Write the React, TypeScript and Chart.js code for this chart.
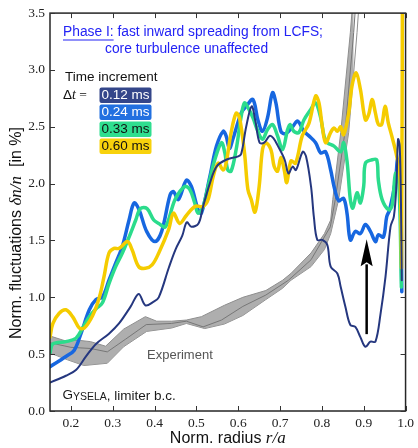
import React, { useEffect, useRef } from 'react';
import { Chart, registerables } from 'chart.js';

Chart.register(...registerables);

// ---------- axes ----------
const xTicks = [0.2, 0.3, 0.4, 0.5, 0.6, 0.7, 0.8, 0.9, 1.0];
const yTicks = [0.0, 0.5, 1.0, 1.5, 2.0, 2.5, 3.0, 3.5];
const xMin = 0.15;
const xMax = 1.0;
const yMin = 0;
const yMax = 3.5;

// ---------- Δt = 0.12 ms ----------
const r012 = [0.15, 0.188, 0.212, 0.236, 0.26, 0.291, 0.315, 0.343, 0.362, 0.378, 0.397, 0.41, 0.434, 0.45, 0.466, 0.477, 0.488, 0.505, 0.516, 0.532, 0.548, 0.571, 0.6, 0.607, 0.619, 0.632, 0.641, 0.651, 0.662, 0.675, 0.684, 0.695, 0.711, 0.72, 0.73, 0.738, 0.754, 0.762, 0.774, 0.781, 0.789, 0.801, 0.813, 0.821, 0.837, 0.845, 0.856, 0.868, 0.88, 0.892, 0.904, 0.916, 0.928, 0.94, 0.952, 0.964, 0.972, 0.978, 0.982, 0.986, 0.989, 0.991];
const dn012 = [0.25, 0.31, 0.36, 0.48, 0.59, 0.68, 0.77, 0.92, 1.03, 0.93, 0.96, 1.0, 1.26, 1.42, 1.54, 1.66, 1.62, 1.65, 1.8, 2.0, 2.15, 2.21, 2.24, 2.26, 2.5, 2.68, 2.55, 2.36, 2.36, 2.42, 2.4, 2.33, 2.21, 2.09, 2.15, 2.12, 2.28, 2.24, 1.975, 1.7, 1.505, 1.505, 1.46, 1.27, 1.21, 1.09, 0.92, 0.756, 0.74, 0.65, 0.565, 0.61, 0.61, 0.85, 1.18, 1.62, 1.71, 1.975, 2.39, 2.33, 1.83, 1.15];

// ---------- Δt = 0.24 ms ----------
const r024 = [0.15, 0.188, 0.208, 0.224, 0.244, 0.26, 0.275, 0.291, 0.307, 0.323, 0.339, 0.351, 0.363, 0.381, 0.401, 0.417, 0.437, 0.445, 0.457, 0.476, 0.488, 0.504, 0.512, 0.532, 0.548, 0.564, 0.571, 0.579, 0.587, 0.607, 0.619, 0.635, 0.647, 0.658, 0.67, 0.682, 0.69, 0.702, 0.714, 0.73, 0.742, 0.757, 0.769, 0.785, 0.797, 0.809, 0.821, 0.829, 0.84, 0.852, 0.86, 0.868, 0.88, 0.892, 0.904, 0.916, 0.928, 0.935, 0.947, 0.955, 0.962, 0.976, 0.981, 0.988, 0.991];
const dn024 = [0.39, 0.48, 0.535, 0.68, 0.89, 0.98, 1.0, 1.15, 1.3, 1.45, 1.68, 1.83, 1.77, 1.58, 1.49, 1.58, 1.9, 1.93, 1.86, 2.03, 1.975, 1.77, 1.74, 2.06, 2.33, 2.46, 2.42, 2.31, 2.39, 2.62, 2.68, 2.74, 2.56, 2.46, 2.58, 2.8, 2.71, 2.46, 2.44, 2.5, 2.55, 2.46, 2.42, 2.36, 2.27, 2.28, 2.12, 1.975, 1.85, 1.87, 1.74, 1.505, 1.58, 1.56, 1.64, 1.58, 1.49, 1.55, 1.53, 1.71, 1.77, 2.03, 2.21, 1.975, 1.05];

// ---------- Δt = 0.33 ms ----------
const r033 = [0.15, 0.157, 0.188, 0.212, 0.228, 0.244, 0.26, 0.275, 0.291, 0.307, 0.323, 0.339, 0.355, 0.366, 0.382, 0.398, 0.41, 0.426, 0.449, 0.472, 0.484, 0.496, 0.504, 0.516, 0.528, 0.544, 0.56, 0.568, 0.575, 0.583, 0.595, 0.607, 0.615, 0.623, 0.635, 0.647, 0.658, 0.67, 0.682, 0.694, 0.706, 0.718, 0.724, 0.733, 0.745, 0.757, 0.773, 0.785, 0.797, 0.805, 0.813, 0.829, 0.845, 0.852, 0.86, 0.868, 0.874, 0.884, 0.892, 0.9, 0.904, 0.92, 0.931, 0.935, 0.944, 0.96, 0.968, 0.976, 0.984, 0.99];
const dn033 = [0.51, 0.59, 0.61, 0.64, 0.73, 0.83, 0.9, 0.95, 1.12, 1.27, 1.39, 1.53, 1.68, 1.78, 1.78, 1.68, 1.65, 1.62, 1.86, 1.975, 1.95, 1.83, 1.74, 1.8, 1.975, 2.21, 2.36, 2.27, 2.12, 2.11, 2.3, 2.59, 2.71, 2.67, 2.58, 2.46, 2.39, 2.475, 2.52, 2.42, 2.3, 2.475, 2.52, 2.46, 2.45, 2.56, 2.65, 2.71, 2.58, 2.42, 2.36, 2.33, 2.28, 2.36, 2.2, 1.86, 1.785, 1.92, 1.83, 1.98, 2.18, 2.21, 2.21, 2.03, 1.86, 1.77, 1.81, 2.09, 2.0, 1.09];

// ---------- Δt = 0.60 ms ----------
const r060 = [0.15, 0.157, 0.172, 0.188, 0.204, 0.22, 0.232, 0.252, 0.268, 0.279, 0.291, 0.303, 0.315, 0.335, 0.346, 0.362, 0.378, 0.394, 0.41, 0.434, 0.445, 0.46, 0.476, 0.497, 0.516, 0.528, 0.54, 0.552, 0.564, 0.571, 0.583, 0.595, 0.603, 0.615, 0.623, 0.631, 0.64, 0.65, 0.658, 0.666, 0.678, 0.686, 0.694, 0.702, 0.71, 0.716, 0.726, 0.737, 0.753, 0.769, 0.785, 0.793, 0.801, 0.809, 0.821, 0.829, 0.837, 0.845, 0.852, 0.864, 0.872, 0.882, 0.892, 0.904, 0.912, 0.92, 0.928, 0.935, 0.943, 0.951, 0.959, 0.967, 0.979, 0.987, 0.9905, 0.9925];
const dn060 = [0.65, 0.77, 0.86, 0.89, 0.83, 0.73, 0.73, 0.84, 1.0, 1.18, 1.39, 1.43, 1.43, 1.49, 1.42, 1.27, 1.255, 1.285, 1.39, 1.6, 1.74, 1.65, 1.72, 1.8, 1.8, 1.86, 2.06, 2.18, 2.12, 2.18, 2.45, 2.62, 2.58, 2.27, 1.95, 1.86, 1.75, 1.975, 2.3, 2.36, 2.3, 2.15, 2.11, 2.23, 2.12, 2.01, 2.2, 2.18, 2.42, 2.53, 2.77, 2.71, 2.5, 2.36, 2.45, 2.49, 2.46, 2.5, 2.43, 2.62, 2.86, 2.975, 2.83, 2.56, 2.61, 2.74, 2.62, 2.52, 2.52, 2.68, 2.53, 2.42, 2.24, 2.03, 1.28, 3.8];

// ---------- Experiment band ----------
const rExpHi = [0.15, 0.184, 0.223, 0.247, 0.283, 0.326, 0.378, 0.405, 0.441, 0.476, 0.512, 0.567, 0.611, 0.666, 0.706, 0.726, 0.774, 0.806, 0.821, 0.826, 0.845, 0.868, 0.876];
const dnExpHi = [0.66, 0.62, 0.62, 0.61, 0.57, 0.72, 0.83, 0.79, 0.79, 0.8, 0.83, 0.93, 1.0, 1.06, 1.15, 1.21, 1.39, 1.56, 1.68, 1.86, 2.45, 3.33, 3.7];
const rExpLo = [0.15, 0.192, 0.231, 0.287, 0.326, 0.381, 0.441, 0.476, 0.52, 0.567, 0.611, 0.666, 0.706, 0.726, 0.774, 0.806, 0.821, 0.84, 0.864, 0.884, 0.891];
const dnExpLo = [0.51, 0.45, 0.4, 0.42, 0.565, 0.7, 0.73, 0.77, 0.725, 0.765, 0.84, 0.98, 1.08, 1.15, 1.27, 1.42, 1.56, 1.86, 2.45, 3.33, 3.7];
const rExpMid = [0.15, 0.2, 0.247, 0.287, 0.33, 0.38, 0.44, 0.476, 0.516, 0.56, 0.611, 0.666, 0.72, 0.774, 0.82, 0.832, 0.855, 0.876, 0.883];
const dnExpMid = [0.6, 0.56, 0.55, 0.52, 0.63, 0.76, 0.77, 0.79, 0.74, 0.8, 0.92, 1.02, 1.15, 1.33, 1.62, 1.86, 2.45, 3.33, 3.7];

// ---------- legend / labels ----------
const legendLabels = ['0.12 ms', '0.24 ms', '0.33 ms', '0.60 ms'];
const lineColors = ['#25377f', '#1767e0', '#2bdc8c', '#f5cc00'];
const boxColors = ['#34468a', '#2270e0', '#2fde8f', '#f8d20c'];
const boxTextColors = ['#ffffff', '#ffffff', '#111111', '#111111'];
const lineWidths = [2, 3.5, 3.5, 3.5];

// arrow (data coords)
const arrowR = 0.907;
const arrowFrom = 0.676;
const arrowTo = 1.51;

const pts = (xs: number[], ys: number[]) => xs.map((x, i) => ({ x, y: ys[i] }));

const SANS = '"Liberation Sans", Arial, Helvetica, sans-serif';
const SERIF = '"Liberation Serif", "Times New Roman", serif';

const decor = {
  id: 'decor',
  afterDatasetsDraw(chart: any) {
    const { ctx, scales } = chart;
    const x = scales.x;
    const y = scales.y;
    // arrow
    const ax = x.getPixelForValue(arrowR);
    const y0 = y.getPixelForValue(arrowFrom);
    const y1 = y.getPixelForValue(arrowTo);
    const headLen = 27;
    const headW = 6;
    ctx.save();
    ctx.strokeStyle = '#000';
    ctx.fillStyle = '#000';
    ctx.lineWidth = 2.5;
    ctx.beginPath();
    ctx.moveTo(ax, y0);
    ctx.lineTo(ax, y1 + headLen - 2);
    ctx.stroke();
    ctx.beginPath();
    ctx.moveTo(ax, y1);
    ctx.lineTo(ax - headW, y1 + headLen);
    ctx.lineTo(ax, y1 + headLen - 4);
    ctx.lineTo(ax + headW, y1 + headLen);
    ctx.closePath();
    ctx.fill();
    ctx.restore();
  },
  afterDraw(chart: any) {
    const { ctx, chartArea: a, scales } = chart;
    const x = scales.x;
    const y = scales.y;
    ctx.save();
    // frame
    ctx.strokeStyle = '#262626';
    ctx.lineWidth = 1.5;
    ctx.strokeRect(a.left, a.top, a.right - a.left, a.bottom - a.top);
    // inward ticks on all four sides
    ctx.lineWidth = 1;
    ctx.strokeStyle = '#333';
    const tl = 5;
    x.ticks.forEach((t: any) => {
      const px = Math.round(x.getPixelForValue(t.value)) + 0.5;
      ctx.beginPath();
      ctx.moveTo(px, a.bottom);
      ctx.lineTo(px, a.bottom - tl);
      ctx.moveTo(px, a.top);
      ctx.lineTo(px, a.top + tl);
      ctx.stroke();
    });
    y.ticks.forEach((t: any) => {
      const py = Math.round(y.getPixelForValue(t.value)) + 0.5;
      ctx.beginPath();
      ctx.moveTo(a.left, py);
      ctx.lineTo(a.left + tl, py);
      ctx.moveTo(a.right, py);
      ctx.lineTo(a.right - tl, py);
      ctx.stroke();
    });

    ctx.textBaseline = 'middle';
    ctx.textAlign = 'left';

    // Phase I text
    ctx.fillStyle = '#2323f5';
    ctx.font = `13.8px ${SANS}`;
    const p1 = 'Phase I:';
    const px0 = a.left + 13;
    ctx.fillText(p1, px0, 32);
    const wp = ctx.measureText(p1).width;
    ctx.fillRect(px0, 39.5, wp, 1);
    ctx.fillText(' fast inward spreading from LCFS;', px0 + wp, 32);
    ctx.fillText('core turbulence unaffected', a.left + 55, 49);

    // legend
    ctx.fillStyle = '#111';
    ctx.font = `13.5px ${SANS}`;
    ctx.fillText('Time increment', a.left + 15, 77);
    ctx.fillText('\u0394', a.left + 13, 95);
    const wd = ctx.measureText('\u0394').width;
    ctx.font = `italic 14px ${SERIF}`;
    ctx.fillText('t', a.left + 13 + wd, 95);
    const wt = ctx.measureText('t').width;
    ctx.font = `13.5px ${SERIF}`;
    ctx.fillText(' =', a.left + 13 + wd + wt, 95);

    const bx = a.left + 49.5;
    const bw = 52;
    const bh = 15.5;
    const tops = [87.5, 104.5, 121.5, 138.5];
    legendLabels.forEach((lab, i) => {
      ctx.fillStyle = boxColors[i];
      ctx.beginPath();
      (ctx as any).roundRect(bx, tops[i], bw, bh, 2);
      ctx.fill();
      ctx.fillStyle = boxTextColors[i];
      ctx.font = `13.5px ${SANS}`;
      ctx.textAlign = 'center';
      ctx.fillText(lab, bx + bw / 2, tops[i] + bh / 2 + 0.5);
      ctx.textAlign = 'left';
    });

    // Experiment label
    ctx.fillStyle = '#555';
    ctx.font = `13px ${SANS}`;
    ctx.fillText('Experiment', a.left + 97, 355);

    // GYSELA
    ctx.fillStyle = '#1a1a1a';
    let gx = a.left + 12.5;
    ctx.font = `13.5px ${SANS}`;
    ctx.fillText('G', gx, 395);
    gx += ctx.measureText('G').width;
    ctx.font = `10.5px ${SANS}`;
    ctx.textBaseline = 'alphabetic';
    ctx.fillText('YSELA', gx, 400);
    gx += ctx.measureText('YSELA').width;
    ctx.font = `13.5px ${SANS}`;
    ctx.fillText(', limiter b.c.', gx, 400);
    ctx.textBaseline = 'middle';

    // x axis title
    ctx.fillStyle = '#111';
    const xs1 = 'Norm. radius ';
    ctx.font = `16px ${SANS}`;
    const w1 = ctx.measureText(xs1).width;
    ctx.font = `italic 17px ${SERIF}`;
    const w2 = ctx.measureText('r/a').width;
    const xcx = (a.left + a.right) / 2;
    const sx = xcx - (w1 + w2) / 2;
    ctx.font = `16px ${SANS}`;
    ctx.fillText(xs1, sx, 439);
    ctx.font = `italic 17px ${SERIF}`;
    ctx.fillText('r/a', sx + w1, 439);

    // y axis title
    ctx.save();
    ctx.translate(17, 233);
    ctx.rotate(-Math.PI / 2);
    const ys1 = 'Norm. fluctuations ';
    const ys2 = '\u03b4n/n';
    const ys3 = '  [in %]';
    ctx.font = `16px ${SANS}`;
    const v1 = ctx.measureText(ys1).width;
    const v3 = ctx.measureText(ys3).width;
    ctx.font = `italic 17px ${SERIF}`;
    const v2 = ctx.measureText(ys2).width;
    const sy = -(v1 + v2 + v3) / 2;
    ctx.font = `16px ${SANS}`;
    ctx.fillText(ys1, sy, 0);
    ctx.font = `italic 17px ${SERIF}`;
    ctx.fillText(ys2, sy + v1, 0);
    ctx.font = `16px ${SANS}`;
    ctx.fillText(ys3, sy + v1 + v2, 0);
    ctx.restore();

    ctx.restore();
  },
};

export default function App() {
  const ref = useRef<HTMLCanvasElement | null>(null);
  useEffect(() => {
    if (!ref.current) return;
    const series = [
      { r: r012, v: dn012 },
      { r: r024, v: dn024 },
      { r: r033, v: dn033 },
      { r: r060, v: dn060 },
    ];
    const simOrder = [0, 3, 2, 1];
    const simSets = series.map((s, i) => ({
      label: legendLabels[i],
      data: pts(s.r, s.v),
      borderColor: lineColors[i],
      borderWidth: lineWidths[i],
      pointRadius: 0,
      tension: 0.35,
      fill: false,
      order: simOrder[i],
      borderCapStyle: 'round' as const,
      borderJoinStyle: 'round' as const,
    }));
    const chart = new Chart(ref.current, {
      type: 'line',
      data: {
        datasets: [
          ...simSets,
          {
            label: 'exp-hi',
            data: pts(rExpHi, dnExpHi),
            borderColor: '#8e8e8e',
            borderWidth: 1,
            backgroundColor: 'rgba(160,160,160,0.85)',
            pointRadius: 0,
            tension: 0,
            fill: '+1',
            order: 12,
          },
          {
            label: 'exp-lo',
            data: pts(rExpLo, dnExpLo),
            borderColor: '#8e8e8e',
            borderWidth: 1,
            pointRadius: 0,
            tension: 0,
            fill: false,
            order: 13,
          },
          {
            label: 'exp-mid',
            data: pts(rExpMid, dnExpMid),
            borderColor: '#777',
            borderWidth: 1,
            pointRadius: 0,
            tension: 0,
            fill: false,
            order: 11,
          },
        ],
      },
      options: {
        responsive: false,
        animation: false,
        layout: { padding: { top: 12, right: 9, left: 0, bottom: 0 } },
        plugins: { legend: { display: false }, tooltip: { enabled: false } },
        scales: {
          x: {
            type: 'linear',
            min: xMin,
            max: xMax,
            afterBuildTicks: (s: any) => {
              s.ticks = xTicks.map((v) => ({ value: v }));
            },
            afterFit: (s: any) => {
              s.height = 37;
            },
            ticks: {
              callback: (v: any) => Number(v).toFixed(1),
              font: { family: SERIF, size: 13.5 },
              color: '#222',
              padding: 4,
              maxRotation: 0,
              autoSkip: false,
            },
            grid: { display: false, drawTicks: false },
            border: { display: false },
          },
          y: {
            type: 'linear',
            min: yMin,
            max: yMax,
            afterBuildTicks: (s: any) => {
              s.ticks = yTicks.map((v) => ({ value: v }));
            },
            afterFit: (s: any) => {
              s.width = 50;
            },
            ticks: {
              callback: (v: any) => Number(v).toFixed(1),
              font: { family: SERIF, size: 13.5 },
              color: '#222',
              padding: 5,
              autoSkip: false,
            },
            grid: { display: false, drawTicks: false },
            border: { display: false },
          },
        },
      },
      plugins: [decor],
    });
    return () => chart.destroy();
  }, []);
  return (
    <div style={{ position: 'absolute', left: 0, top: 0, width: 418, height: 448, background: '#fff' }}>
      <canvas ref={ref} width={418} height={448} style={{ display: 'block' }} />
    </div>
  );
}
